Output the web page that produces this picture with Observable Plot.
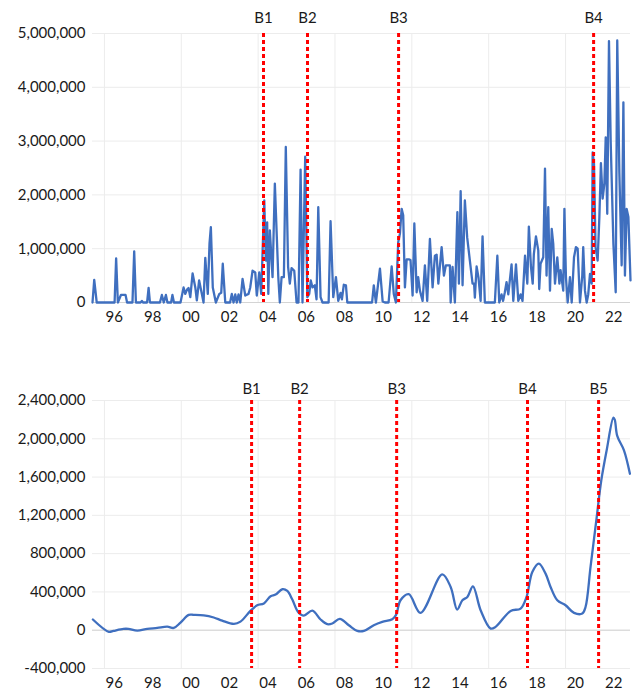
<!DOCTYPE html>
<html><head><meta charset="utf-8">
<script src="https://cdn.jsdelivr.net/npm/d3@7"></script>
<script src="https://cdn.jsdelivr.net/npm/@observablehq/plot@0.6"></script>
<style>
body{margin:0;background:#fff;}
#chart{width:632px;}
#chart svg{display:block;}
</style></head><body><div id="chart"></div>
<script>
// ---- Top panel: raw series (values in thousands) ----
const topYears = [1995.00,1995.09,1995.22,1996.15,1996.23,1996.32,1996.48,1996.72,1996.80,1997.08,1997.17,1997.26,1997.50,1997.57,1997.63,1997.84,1997.92,1997.99,1998.51,1998.61,1998.71,1998.82,1998.90,1999.09,1999.16,1999.24,1999.58,1999.74,1999.83,1999.92,2000.00,2000.09,2000.21,2000.35,2000.43,2000.55,2000.69,2000.78,2000.87,2001.00,2001.09,2001.16,2001.26,2001.42,2001.60,2001.70,2001.78,2001.91,2002.16,2002.25,2002.34,2002.43,2002.51,2002.60,2002.69,2002.81,2002.95,2003.12,2003.21,2003.33,2003.47,2003.55,2003.68,2003.78,2003.94,2004.02,2004.09,2004.15,2004.23,2004.37,2004.49,2004.67,2004.75,2004.84,2004.96,2005.06,2005.18,2005.27,2005.36,2005.50,2005.62,2005.72,2005.83,2005.93,2006.07,2006.18,2006.28,2006.36,2006.45,2006.57,2006.66,2006.75,2006.87,2006.97,2007.29,2007.39,2007.53,2007.67,2007.79,2007.91,2007.98,2008.08,2008.19,2008.26,2009.55,2009.64,2009.75,2009.96,2010.10,2010.22,2010.41,2010.57,2010.68,2010.79,2010.91,2011.00,2011.09,2011.17,2011.26,2011.35,2011.49,2011.55,2011.66,2011.75,2011.87,2011.95,2012.04,2012.18,2012.30,2012.42,2012.56,2012.70,2012.82,2012.91,2013.00,2013.17,2013.29,2013.39,2013.51,2013.60,2013.64,2013.74,2013.86,2013.99,2014.07,2014.16,2014.26,2014.38,2014.50,2014.64,2014.78,2014.86,2014.90,2014.99,2015.09,2015.20,2015.30,2015.42,2015.94,2016.07,2016.17,2016.29,2016.37,2016.46,2016.55,2016.64,2016.81,2016.90,2017.04,2017.16,2017.28,2017.38,2017.51,2017.63,2017.71,2017.82,2017.91,2017.97,2018.08,2018.20,2018.25,2018.32,2018.46,2018.55,2018.63,2018.72,2018.81,2018.90,2018.98,2019.07,2019.19,2019.30,2019.36,2019.50,2019.56,2019.64,2019.73,2019.85,2019.94,2020.06,2020.16,2020.25,2020.37,2020.49,2020.54,2020.63,2020.72,2020.80,2020.89,2020.98,2021.03,2021.10,2021.18,2021.29,2021.38,2021.46,2021.55,2021.64,2021.71,2021.79,2021.88,2021.97,2022.11,2022.23,2022.31,2022.42,2022.54,2022.63,2022.71,2022.80,2022.89,2023.00];
const topValuesK = [0,420,0,0,820,0,140,140,0,0,950,0,0,30,0,0,270,0,0,140,0,140,0,0,140,0,0,280,160,240,270,100,540,280,40,410,160,0,830,160,1100,1400,280,0,160,180,720,0,0,160,0,150,0,150,0,440,130,160,280,590,560,130,560,160,1900,780,1490,160,1340,470,2210,470,0,470,470,2890,660,350,640,590,0,0,2470,0,2710,100,160,410,280,320,60,1770,100,0,0,1510,100,470,30,180,60,330,320,0,0,320,0,630,20,0,0,670,160,0,1120,1280,1740,1620,280,800,800,790,130,1470,190,470,220,30,690,30,1180,280,870,890,350,1030,500,690,690,690,0,660,0,1680,350,2070,320,1900,1210,780,350,350,90,670,460,30,1230,0,0,870,0,150,30,190,380,150,710,30,710,30,150,30,870,350,1410,660,350,900,1230,970,250,720,840,2490,500,1770,220,1370,1090,350,840,350,600,220,1740,470,0,470,0,840,1030,1000,0,500,1030,220,0,150,530,350,2790,2580,1030,780,1590,2590,1930,2210,3070,1650,4860,2980,1090,190,4870,2410,690,3720,500,1740,1590,410];
const topBreakYears = [2003.90, 2006.19, 2010.93, 2021.08];
const topBreakLabels = ["B1", "B2", "B3", "B4"];
const topYTicks = [0, 1000000, 2000000, 3000000, 4000000, 5000000];

// ---- Bottom panel: smoothed series (values in thousands) ----
const bottomYears = [1995.02,1995.85,1996.09,1996.61,1996.87,1997.33,1997.85,1998.37,1998.89,1999.23,1999.58,2000.01,2000.27,2000.79,2001.31,2001.75,2002.36,2002.70,2003.22,2003.57,2003.92,2004.27,2004.53,2004.88,2005.14,2005.40,2005.71,2006.00,2006.44,2006.87,2007.22,2007.48,2007.87,2008.34,2008.78,2009.13,2009.64,2010.08,2010.60,2010.80,2011.03,2011.46,2012.07,2013.20,2013.64,2013.98,2014.25,2014.51,2014.80,2015.20,2015.72,2015.98,2016.76,2017.28,2017.59,2017.89,2018.23,2018.58,2018.84,2019.19,2019.62,2020.06,2020.49,2020.66,2020.92,2021.24,2021.48,2021.76,2022.11,2022.18,2022.31,2022.66,2022.97];
const bottomValuesK = [112,-17,-7,14,14,-5,14,24,37,24,80,160,160,155,133,100,66,90,202,260,280,355,372,428,410,320,188,153,205,112,63,70,118,52,-7,-7,52,87,115,160,313,376,181,584,452,216,313,348,459,209,17,35,202,226,348,608,696,591,452,313,261,181,174,243,661,1180,1565,1880,2220,2200,2030,1880,1635];
const bottomBreakYears = [2003.28, 2005.78, 2010.83, 2017.64, 2021.34];
const bottomBreakLabels = ["B1", "B2", "B3", "B4", "B5"];
const bottomYTicks = [-400000, 0, 400000, 800000, 1200000, 1600000, 2000000, 2400000];

// ---- Shared x axis ----
const xTickYears = [1996,1998,2000,2002,2004,2006,2008,2010,2012,2014,2016,2018,2020,2022];
const xTickLabels = ["96","98","00","02","04","06","08","10","12","14","16","18","20","22"];
const vGridYears = [1995.62, 1999.62, 2003.62, 2007.62, 2011.62, 2015.62, 2019.62];
const xDomain = [1995, 2023];

const topData = topYears.map((y, i) => ({year: y, value: topValuesK[i] * 1000}));
const bottomData = bottomYears.map((y, i) => ({year: y, value: bottomValuesK[i] * 1000}));

const fmt = d => d.toLocaleString("en-US");

function panel({data, curve, yDomain, yTicks, breaks, breakLabels, height, marginTop, marginBottom, labelDy}) {
  return Plot.plot({
    width: 632, height, marginTop, marginBottom, marginLeft: 92, marginRight: 2,
    style: {fontFamily: "Lato, 'Open Sans', sans-serif", fontSize: "15px", color: "#1a1a1a", background: "#fff", overflow: "visible"},
    x: {domain: xDomain, axis: null},
    y: {domain: yDomain, axis: null},
    marks: [
      Plot.ruleY(yTicks, {stroke: "#ececec", strokeWidth: 1}),
      Plot.ruleX(vGridYears, {stroke: "#ececec", strokeWidth: 1}),
      Plot.ruleY([0], {stroke: "#d4d4d4", strokeWidth: 1}),
      Plot.axisY(yTicks, {label: null, tickSize: 0, tickPadding: 7, tickFormat: fmt, fontSize: 15}),
      Plot.axisX(xTickYears, {label: null, tickSize: 0, tickPadding: 9, dx: 2.5, fontSize: 15,
        tickFormat: d => xTickLabels[xTickYears.indexOf(d)]}),
      Plot.line(data, {x: "year", y: "value", stroke: "#3f6fbf", strokeWidth: 2.3, strokeLinejoin: "round", curve}),
      Plot.ruleX(breaks, {stroke: "#ff0000", strokeWidth: 3, strokeDasharray: "4,3"}),
      Plot.text(breaks, {x: d => d, y: yDomain[1], text: (d, i) => breakLabels[i], lineAnchor: "bottom", dy: labelDy, fontSize: 15, fill: "#1a1a1a"})
    ]
  });
}

const chart = document.getElementById("chart");
chart.append(panel({
  data: topData, curve: "linear", yDomain: [0, 5000000], yTicks: topYTicks,
  breaks: topBreakYears, breakLabels: topBreakLabels,
  height: 335, marginTop: 33, marginBottom: 33, labelDy: -11
}));
chart.append(panel({
  data: bottomData, curve: "catmull-rom", yDomain: [-400000, 2400000], yTicks: bottomYTicks,
  breaks: bottomBreakYears, breakLabels: bottomBreakLabels,
  height: 357, marginTop: 65, marginBottom: 24, labelDy: -7
}));
</script></body></html>
